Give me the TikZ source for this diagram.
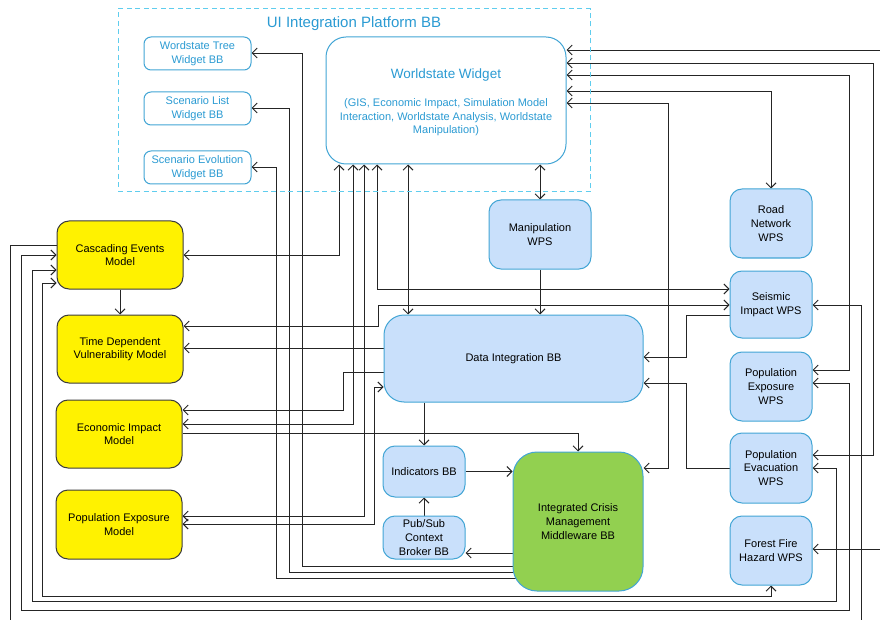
\documentclass[tikz,border=0pt]{standalone}
\usepackage{fontspec}
\setmainfont{Liberation Sans}
\usetikzlibrary{arrows.meta,backgrounds}
\definecolor{linec}{HTML}{252525}
\definecolor{bluefill}{HTML}{C9E0FB}
\definecolor{blueedge}{HTML}{42A5D5}
\definecolor{uitext}{HTML}{2B9BD3}
\definecolor{uidash}{HTML}{5FCDEE}
\definecolor{greenfill}{HTML}{92D050}
\definecolor{yellowedge}{HTML}{3C3C3C}

\begin{document}
\begin{tikzpicture}[x=1pt,y=-1pt,
  base/.style={align=center, inner sep=2pt, font=\fontsize{11pt}{13.6pt}\selectfont, line width=1pt},
  wps/.style={base, draw=blueedge, fill=bluefill, rounded corners=12pt, minimum width=82pt},
  model/.style={base, draw=yellowedge, fill=yellow, rounded corners=12pt, minimum width=126pt, minimum height=68pt},
  widget/.style={base, draw=blueedge, fill=white, text=uitext, rounded corners=7pt, minimum width=107pt, minimum height=33pt},
  conn/.style={draw=linec, line width=0.95pt},
  arr/.style={conn, -{Straight Barb[length=5pt,width=10pt]}},
  arr2/.style={conn, {Straight Barb[length=5pt,width=10pt]}-{Straight Barb[length=5pt,width=10pt]}},
]
\useasboundingbox (0,0) rectangle (880,620);

% UI integration platform container
\node[draw=uidash, dash pattern=on 5pt off 3.5pt, line width=1pt, minimum width=472pt, minimum height=183pt, inner sep=0pt] (ui) at (354,100.5) {};
\node[text=uitext, font=\fontsize{15pt}{18pt}\selectfont] (uititle) at (354,23.5) {UI Integration Platform BB};

% widgets
\node[widget] (wt) at (197.5,53.5) {Wordstate Tree\\Widget BB};
\node[widget] (sl) at (197.5,108.5) {Scenario List\\Widget BB};
\node[widget] (se) at (197.5,167.5) {Scenario Evolution\\Widget BB};
\node[base, draw=blueedge, fill=white, rounded corners=20pt, minimum width=240pt, minimum height=127pt] (ws) at (446,100.5) {};
\node[base, text=uitext] (wstext) at (446,102.5)
  {{\fontsize{13.5pt}{16pt}\selectfont Worldstate Widget}\\[14pt]
   (GIS, Economic Impact, Simulation Model\\Interaction, Worldstate Analysis, Worldstate\\Manipulation)};

% central building blocks
\node[wps, minimum width=102pt, minimum height=69pt] (mw) at (540,234.5) {Manipulation\\WPS};
\node[wps, rounded corners=20pt, minimum width=259pt, minimum height=87pt] (di) at (513.5,358.5) {Data Integration BB};
\node[wps, minimum height=51pt] (ind) at (424,471.5) {Indicators BB};
\node[wps, minimum height=43pt] (ps) at (424,537.5) {Pub/Sub\\Context\\Broker BB};
\node[base, draw=blueedge, fill=greenfill, rounded corners=24pt, minimum width=130pt, minimum height=139pt] (mid) at (578,521.5) {Integrated Crisis\\Management\\Middleware BB};

% processing services
\node[wps, minimum height=69pt] (rn) at (771,223.5) {Road\\Network\\WPS};
\node[wps, minimum height=67pt] (si) at (771,304.5) {Seismic\\Impact WPS};
\node[wps, minimum height=69pt] (pe) at (771,386.5) {Population\\Exposure\\WPS};
\node[wps, minimum height=70pt] (pv) at (771,468) {Population\\Evacuation\\WPS};
\node[wps, minimum height=69pt] (ff) at (771,550.5) {Forest Fire\\Hazard WPS};

% models
\node[model] (ce) at (120,255) {Cascading Events\\Model};
\node[model] (td) at (120,349) {Time Dependent\\Vulnerability Model};
\node[model] (ei) at (119,434) {Economic Impact\\Model};
\node[model, minimum height=69pt] (pm) at (119,524.5) {Population Exposure\\Model};

\begin{pgfonlayer}{background}
\fill[white] (0,0) rectangle (880,620);
\clip (0,0) rectangle (880,620);

% links around the worldstate widget
\draw[arr2] (mw.north) -- (mw.north |- ws.south);
\draw[arr] (mw.south) -- (mw.south |- di.north);
\draw[arr2] (ws.south -| 408,0) -- (di.north -| 408,0);
\draw[arr2] (ce.east) -| (ws.south -| 339,0);
\draw[arr2] (ei.east |- 0,424) -| (ws.south -| 353,0);
\draw[arr2] (pm.east |- 0,516) -| (ws.south -| 364,0);
\draw[arr2] (si.west |- 0,289) -| (ws.south -| 377,0);

% data integration links
\draw[arr2] (td.east |- 0,326) -| (378,305) -- (si.west |- 0,305);
\draw[arr] (di.west |- 0,348) -- (td.east |- 0,348);
\draw[arr] (di.west |- 0,372) -| (343,410) -- (ei.east |- 0,410);
\draw[arr2] (pm.east |- 0,524) -| (374,387) -- (di.west |- 0,387);
\draw[arr] (ei.east |- 0,433) -| (mid.north);
\draw[arr] (ind.north |- di.south) -- (ind.north);
\draw[arr] (ps.north) -- (ind.south);
\draw[arr] (ind.east) -- (ind.east -| mid.west);
\draw[arr] (mid.center |- 0,553) -- (ps.east |- 0,553);

% middleware to widgets
\draw[arr] (mid.center |- 0,566) -| (302,53) -- (wt.east |- 0,53);
\draw[arr] (mid.center |- 0,572) -| (289,108) -- (sl.east |- 0,108);
\draw[arr] (mid.center |- 0,578) -| (276,167) -- (se.east |- 0,167);

% right-hand services
\draw[arr2] (ws.east |- 0,103) -| (668,468) -- (mid.east |- 0,468);
\draw[arr2] (ws.east |- 0,91) -| (rn.north);
\draw[arr2] (ws.east |- 0,75) -| (849,370) -- (pe.east |- 0,370);
\draw[arr2] (ws.east |- 0,63) -| (873,455) -- (pv.east |- 0,455);
\draw[arr2] (ws.east |- 0,50) -| (892,549) -- (ff.east |- 0,549);
\draw[arr] (si.west |- 0,315) -| (686,357) -- (di.east |- 0,357);
\draw[arr] (pv.west) -| (686,383) -- (di.east |- 0,383);

% cascading events model loops
\draw[arr2] (ce.west |- 0,255) -| (21,610) -| (849,383) -- (pe.east |- 0,383);
\draw[arr2] (ce.west |- 0,270) -| (32,601) -| (836,468) -- (pv.east |- 0,468);
\draw[arr2] (ce.west |- 0,283) -| (42,596) -| (ff.south);
\draw[arr] (ce.west |- 0,245) -| (10,632) -| (861,305) -- (si.east |- 0,305);
\draw[arr] (ce.south) -- (td.north);
\end{pgfonlayer}
\end{tikzpicture}
\end{document}
